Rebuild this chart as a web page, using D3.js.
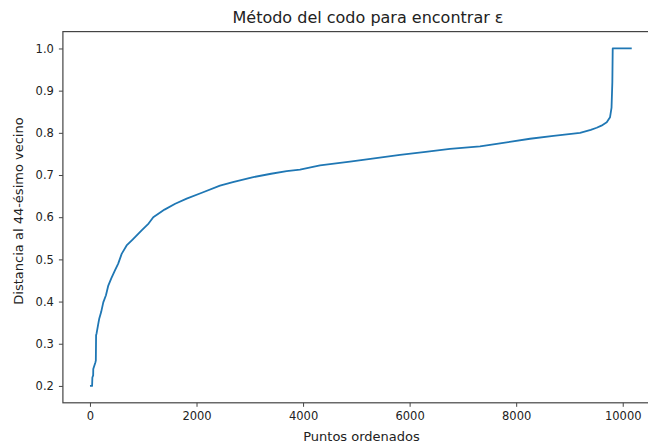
<!DOCTYPE html>
<html>
<head>
  <meta charset="UTF-8">
  <style>
    body { margin: 0; background: white; }
    text { font-family: "DejaVu Sans", sans-serif; fill: #222; }
  </style>
</head>
<body>
<div id="chart_div"></div>

<script src="https://d3js.org/d3.v7.min.js"></script>
<script>

let width = 648, height = 444;

// sorted k-distance curve
const puntos = [0, 40, 45, 60, 62, 100, 110, 115, 125, 160, 175, 210, 250, 300, 344, 400, 469, 530, 595, 688, 800, 970,
  1100, 1188, 1400, 1600, 1815, 2100, 2440, 2700, 3066, 3400, 3692, 3942, 4318, 4881, 5300, 5820, 6300, 6758,
  7321, 7697, 8260, 8700, 9199, 9400, 9511, 9600, 9700, 9762, 9790, 9805, 9812, 10169];
const distancias = [0.2, 0.2, 0.22, 0.225, 0.24, 0.255, 0.26, 0.32, 0.325, 0.35, 0.36, 0.375, 0.398, 0.415, 0.438, 0.455, 0.474, 0.49, 0.513, 0.533, 0.547, 0.569,
  0.585, 0.600, 0.618, 0.632, 0.644, 0.658, 0.675, 0.684, 0.695, 0.703, 0.709, 0.713, 0.723, 0.732, 0.739, 0.748, 0.755, 0.762,
  0.768, 0.775, 0.786, 0.793, 0.800, 0.807, 0.812, 0.817, 0.825, 0.837, 0.86, 0.92, 1.0, 1.0];

const xTicks = [0, 2000, 4000, 6000, 8000, 10000];
const yTicks = [0.2, 0.3, 0.4, 0.5, 0.6, 0.7, 0.8, 0.9, 1.0];

let svg = d3.select("#chart_div")
  .append("svg")
  .attr("width", width)
  .attr("height", height);

svg.append("rect")
  .attr("width", width)
  .attr("height", height)
  .attr("fill", "white");

// matplotlib-like 5% margins around the data
let x = d3.scaleLinear().domain([-508, 10677]).range([62.9, 658.8]);
let y = d3.scaleLinear().domain([0.16, 1.04]).range([402.8, 31.6]);

let line = d3.line()
  .x((d, i) => x(puntos[i]))
  .y(d => y(d));

svg.append("path")
  .datum(distancias)
  .attr("d", line)
  .attr("fill", "none")
  .attr("stroke", "#1f77b4")
  .attr("stroke-width", 1.8)
  .attr("stroke-linejoin", "round");

// frame
svg.append("rect")
  .attr("x", x.range()[0])
  .attr("y", y.range()[1])
  .attr("width", x.range()[1] - x.range()[0])
  .attr("height", y.range()[0] - y.range()[1])
  .attr("fill", "none")
  .attr("stroke", "#444")
  .attr("stroke-width", 1.2);

let xAxis = svg.append("g")
  .attr("transform", "translate(0," + y.range()[0] + ")")
  .call(d3.axisBottom(x).tickValues(xTicks).tickFormat(d3.format("d")).tickSize(4).tickPadding(5));
let yAxis = svg.append("g")
  .attr("transform", "translate(" + x.range()[0] + ",0)")
  .call(d3.axisLeft(y).tickValues(yTicks).tickFormat(d3.format(".1f")).tickSize(4).tickPadding(5));

[xAxis, yAxis].forEach(a => {
  a.select(".domain").remove();
  a.selectAll(".tick line").attr("stroke", "#444");
  a.selectAll(".tick text")
    .style("font-family", "DejaVu Sans")
    .style("font-size", "11.5px")
    .attr("fill", "#222");
});

svg.append("text")
  .attr("x", 368)
  .attr("y", 23)
  .attr("text-anchor", "middle")
  .style("font-size", "16px")
  .text("Método del codo para encontrar ε");

svg.append("text")
  .attr("x", 361.5)
  .attr("y", 441)
  .attr("text-anchor", "middle")
  .style("font-size", "13px")
  .text("Puntos ordenados");

svg.append("text")
  .attr("transform", "translate(23," + 211 + ") rotate(-90)")
  .attr("text-anchor", "middle")
  .style("font-size", "13px")
  .text("Distancia al 44-ésimo vecino");

</script>
</body>
</html>
